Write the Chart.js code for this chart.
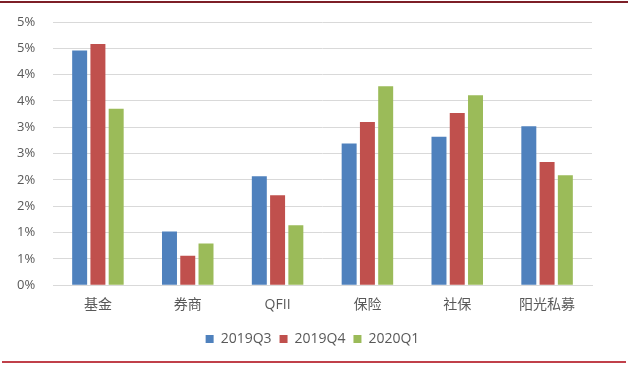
<!DOCTYPE html>
<html>
<head>
<meta charset="utf-8">
<script src="https://cdn.jsdelivr.net/npm/chart.js@4"></script>
<style>
  html, body { margin: 0; padding: 0; background: #ffffff; }
  #wrap { width: 630px; height: 366px; }
</style>
</head>
<body>
<div id="wrap"><canvas id="grafico" width="630" height="366"></canvas></div>
<script>
// Categorías y series (en %)
const categorias = ['基金', '券商', 'QFII', '保险', '社保', '阳光私募'];
const serie2019Q3 = [4.46, 1.02, 2.07, 2.69, 2.82, 3.02];
const serie2019Q4 = [4.58, 0.56, 1.71, 3.10, 3.27, 2.34];
const serie2020Q1 = [3.35, 0.79, 1.14, 3.78, 3.61, 2.09];
const nombresSeries = ['2019Q3', '2019Q4', '2020Q1'];

const fuenteTexto = "'Open Sans', 'Noto Sans CJK SC', sans-serif";
const colorTexto = '#595959';

// Líneas rojas de marco arriba y abajo
const lineasMarco = {
    id: 'lineasMarco',
    afterDraw(chart) {
        const c = chart.ctx;
        c.save();
        c.fillStyle = '#7d1f27';
        c.fillRect(0, 1, 628, 2);
        c.fillStyle = '#c0404a';
        c.fillRect(2, 361, 624, 2);
        c.restore();
    }
};

const barra = { barPercentage: 0.82, categoryPercentage: 0.61 };

new Chart(document.getElementById('grafico').getContext('2d'), {
    type: 'bar',
    data: {
        labels: categorias,
        datasets: [
            { label: nombresSeries[0], data: serie2019Q3, backgroundColor: '#4f81bd', ...barra },
            { label: nombresSeries[1], data: serie2019Q4, backgroundColor: '#c0504d', ...barra },
            { label: nombresSeries[2], data: serie2020Q1, backgroundColor: '#9bbb59', ...barra }
        ]
    },
    options: {
        responsive: false,
        animation: false,
        // izquierda más ancha para que la leyenda quede centrada como en el original
        layout: { padding: { top: 22, left: 33, right: 38, bottom: 10 } },
        scales: {
            y: {
                min: 0,
                max: 5,
                ticks: {
                    stepSize: 0.5,
                    color: colorTexto,
                    font: { family: fuenteTexto, size: 13 },
                    mirror: true,      // así las etiquetas no se recortan
                    padding: -36,
                    callback: v => Math.round(v) + '%'
                },
                grid: { color: '#d9d9d9', drawTicks: false },
                border: { display: false },
                afterFit: s => { s.width = 20; }
            },
            x: {
                ticks: {
                    color: colorTexto,
                    font: { family: fuenteTexto, size: 14 },
                    padding: 11
                },
                grid: { display: false, drawTicks: false },
                border: { color: '#d9d9d9' }
            }
        },
        plugins: {
            legend: {
                position: 'bottom',
                labels: {
                    color: colorTexto,
                    font: { family: fuenteTexto, size: 14 },
                    boxWidth: 8,
                    boxHeight: 8,
                    padding: 8
                }
            },
            tooltip: { enabled: false }
        }
    },
    plugins: [lineasMarco]
});
</script>
</body>
</html>
